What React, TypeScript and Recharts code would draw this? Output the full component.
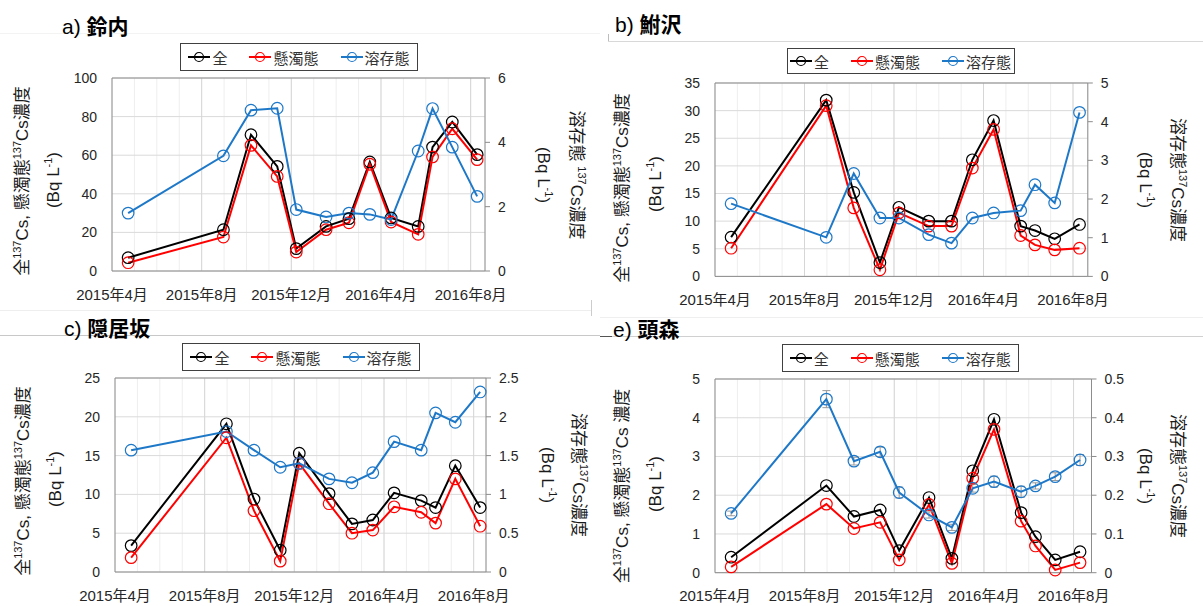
import React from 'react';
import { LineChart, Line, XAxis, YAxis, CartesianGrid, ReferenceLine, ErrorBar } from 'recharts';

const FONT = '"Liberation Sans", Arial, "Noto Sans CJK JP", sans-serif';

// sampling dates, in months after 2015-04-01
const sampleMonths = [0.72, 4.97, 6.2, 7.37, 8.22, 9.55, 10.57, 11.5, 12.45, 13.66, 14.3, 15.18, 16.29];
const monthTicks = [0, 1, 2, 3, 4, 5, 6, 7, 8, 9, 10, 11, 12, 13, 14, 15, 16];
const majorMonths = [0, 4, 8, 12, 16];
const xTickLabels = ['2015年4月', '2015年8月', '2015年12月', '2016年4月', '2016年8月'];

const seriesNames = ['全', '懸濁態', '溶存態'];
const seriesColors = ['#000000', '#ff0000', '#1e78c8'];

// a) 鈴内
const aTotal = [6.9, 21.4, 70.6, 54.2, 11.6, 23.1, 27.1, 56.5, 27.5, 23.1, 64.2, 77.2, 60.3];
const aSusp = [4.3, 17.6, 65.1, 49.0, 9.8, 21.4, 25.0, 55.3, 25.4, 19.0, 59.1, 73.7, 57.7];
const aDiss = [1.8, 3.58, 5.0, 5.06, 1.91, 1.68, 1.8, 1.76, 1.6, 3.73, 5.05, 3.85, 2.32];

// b) 鮒沢
const bTotal = [7.1, 31.9, 15.2, 2.5, 12.5, 10.0, 10.0, 21.1, 28.2, 9.1, 8.3, 6.8, 9.4];
const bSusp = [5.1, 30.9, 12.4, 1.2, 11.5, 9.1, 9.1, 19.6, 26.6, 7.4, 5.7, 4.8, 5.1];
const bDiss = [1.88, 1.01, 2.66, 1.51, 1.51, 1.08, 0.86, 1.51, 1.64, 1.7, 2.37, 1.9, 4.24];

// c) 隠居坂
const cTotal = [3.4, 19.1, 9.4, 2.8, 15.3, 10.1, 6.2, 6.7, 10.2, 9.2, 8.3, 13.7, 8.3];
const cSusp = [1.85, 17.3, 7.9, 1.4, 14.0, 8.8, 5.0, 5.4, 8.4, 7.7, 6.3, 12.0, 5.9];
const cDiss = [1.57, 1.81, 1.57, 1.35, 1.4, 1.2, 1.15, 1.28, 1.68, 1.57, 2.05, 1.93, 2.32];

// e) 頭森
const eTotal = [0.4, 2.25, 1.45, 1.62, 0.57, 1.94, 0.37, 2.63, 3.96, 1.55, 0.93, 0.33, 0.54];
const eSusp = [0.15, 1.77, 1.14, 1.3, 0.33, 1.76, 0.24, 2.44, 3.7, 1.33, 0.69, 0.07, 0.26];
const eDiss = [0.153, 0.448, 0.288, 0.312, 0.207, 0.149, 0.117, 0.218, 0.235, 0.209, 0.224, 0.248, 0.291];
const eDissErr = [0.006, 0.022, 0.01, 0.012, 0.014, 0.008, 0.008, 0.01, 0.014, 0.014, 0.008, 0.01, 0.014];

const AXIS = '#8c8c8c';
const TICK = { fontSize: 14, fill: '#262626', fontFamily: FONT };
const XTICK = { fontSize: 15, fill: '#262626', fontFamily: FONT };

type Rect = { x0: number; y0: number; x1: number; y1: number };

type PanelProps = {
  letter: string;
  name: string;
  total: number[];
  susp: number[];
  diss: number[];
  err?: number[];
  leftMax: number;
  leftTicks: number[];
  rightMax: number;
  rightTicks: number[];
  xMax: number;
  plot: Rect;
  title: { x: number; y: number };
  legend: { x: number; y: number; w: number; h: number };
  leftLabel: { cx: number; cy: number; bx: number; by: number; spaced?: boolean };
  rightLabel: { cx: number; cy: number; bx: number; by: number; spaced?: boolean };
};

const LegendIcon = ({ color }: { color: string }) => (
  <svg width={22} height={12} style={{ display: 'block' }}>
    <line x1={0} y1={6} x2={22} y2={6} stroke={color} strokeWidth={2} />
    <circle cx={11} cy={6} r={4.5} fill="none" stroke={color} strokeWidth={1.2} />
  </svg>
);

const vText = (cx: number, cy: number, rot: number, content: React.ReactNode) => (
  <div
    style={{
      position: 'absolute',
      left: cx,
      top: cy,
      transform: `translate(-50%, -50%) rotate(${rot}deg)`,
      whiteSpace: 'nowrap',
      fontSize: 17,
      lineHeight: '20px',
      fontFamily: FONT,
      color: '#1a1a1a',
    }}
  >
    {content}
  </div>
);

const sup = (s: string) => <sup style={{ fontSize: 11, lineHeight: 0 }}>{s}</sup>;
const bqUnit = <span>(Bq L{sup('-1')})</span>;

function Panel(p: PanelProps) {
  const { x0, y0, x1, y1 } = p.plot;
  const LW = 50;
  const RW = 45;
  const TOP = 10;
  const XH = 36;
  const width = x1 - x0 + LW + RW;
  const height = y1 - y0 + TOP + XH;
  const rows = sampleMonths.map((m, i) => ({
    m,
    total: p.total[i],
    susp: p.susp[i],
    diss: p.diss[i],
    err: p.err ? p.err[i] : 0,
  }));
  const fmtX = (v: number) => {
    const k = majorMonths.indexOf(v);
    return k >= 0 ? xTickLabels[k] : '';
  };
  const dot = (c: string) => ({ r: 5.8, fill: 'none', stroke: c, strokeWidth: 1.2 });

  return (
    <>
      <div style={{ position: 'absolute', left: p.title.x, top: p.title.y - 14, fontSize: 21, lineHeight: '28px', fontFamily: FONT, color: '#000', whiteSpace: 'nowrap' }}>
        {p.letter}) <span style={{ fontWeight: 'bold', fontFamily: '"Noto Sans CJK JP", sans-serif' }}>{p.name}</span>
      </div>
      <div style={{ position: 'absolute', left: x0 - LW, top: y0 - TOP }}>
        <LineChart width={width} height={height} data={rows} margin={{ top: TOP, right: 0, bottom: 0, left: 0 }}>
          <CartesianGrid horizontal={false} yAxisId="left" stroke="#eeeeee" />
          <CartesianGrid vertical={false} yAxisId="left" stroke="#dadada" />
          {majorMonths.slice(1).map((m) => (
            <ReferenceLine key={m} x={m} yAxisId="left" stroke="#d6d6d6" />
          ))}
          <XAxis
            type="number"
            dataKey="m"
            domain={[0, p.xMax]}
            ticks={monthTicks}
            interval={0}
            tickFormatter={fmtX}
            tickLine={false}
            tickSize={0}
            tickMargin={18}
            height={XH}
            axisLine={{ stroke: AXIS }}
            tick={XTICK}
          />
          <YAxis
            yAxisId="left"
            domain={[0, p.leftMax]}
            ticks={p.leftTicks}
            interval={0}
            width={LW}
            tickLine={false}
            tickSize={0}
            tickMargin={15}
            axisLine={{ stroke: AXIS }}
            tick={TICK}
          />
          <YAxis
            yAxisId="right"
            orientation="right"
            domain={[0, p.rightMax]}
            ticks={p.rightTicks}
            interval={0}
            width={RW}
            tickSize={5}
            tickMargin={8}
            tickLine={{ stroke: AXIS }}
            axisLine={{ stroke: AXIS }}
            tick={TICK}
          />
          <ReferenceLine yAxisId="left" y={p.leftMax} stroke={AXIS} />
          <Line yAxisId="left" dataKey="total" name={seriesNames[0]} stroke={seriesColors[0]} strokeWidth={2} dot={dot(seriesColors[0])} activeDot={false} isAnimationActive={false} />
          <Line yAxisId="left" dataKey="susp" name={seriesNames[1]} stroke={seriesColors[1]} strokeWidth={2} dot={dot(seriesColors[1])} activeDot={false} isAnimationActive={false} />
          <Line yAxisId="right" dataKey="diss" name={seriesNames[2]} stroke={seriesColors[2]} strokeWidth={2} dot={dot(seriesColors[2])} activeDot={false} isAnimationActive={false}>
            {p.err && <ErrorBar dataKey="err" width={4} stroke="#9a9a9a" strokeWidth={1} direction="y" />}
          </Line>
        </LineChart>
      </div>
      <div
        style={{
          position: 'absolute',
          left: p.legend.x,
          top: p.legend.y,
          width: p.legend.w,
          height: p.legend.h,
          boxSizing: 'border-box',
          border: '1px solid #404040',
          background: '#fff',
          display: 'flex',
          alignItems: 'center',
          justifyContent: 'center',
          gap: 22,
          fontSize: 15,
          fontFamily: '"Noto Sans CJK JP", sans-serif',
          color: '#333',
        }}
      >
        {seriesNames.map((n, i) => (
          <div key={n} style={{ display: 'flex', alignItems: 'center', gap: 2 }}>
            <LegendIcon color={seriesColors[i]} />
            <span>{n}</span>
          </div>
        ))}
      </div>
      {vText(p.leftLabel.cx, p.leftLabel.cy, -90, (
        <span>全{sup('137')}Cs, 懸濁態{sup('137')}Cs{p.leftLabel.spaced ? ' ' : ''}濃度</span>
      ))}
      {vText(p.leftLabel.bx, p.leftLabel.by, -90, bqUnit)}
      {vText(p.rightLabel.cx, p.rightLabel.cy, 90, (
        <span>溶存態{p.rightLabel.spaced ? ' ' : ''}{sup('137')}Cs濃度</span>
      ))}
      {vText(p.rightLabel.bx, p.rightLabel.by, 90, bqUnit)}
    </>
  );
}

const hLine = (x: number, y: number, w: number, c: string) => (
  <div style={{ position: 'absolute', left: x, top: y, width: w, height: 1, background: c }} />
);
const vLine = (x: number, y: number, h: number, c: string) => (
  <div style={{ position: 'absolute', left: x, top: y, width: 1, height: h, background: c }} />
);

export default function App() {
  return (
    <div style={{ position: 'absolute', left: 0, top: 0, width: 1203, height: 606, background: '#fff', overflow: 'hidden' }}>
      {hLine(0, 33, 600, '#f3f3f3')}
      {hLine(608, 41, 595, '#d8d8d8')}
      {vLine(608, 34, 7, '#bdbdbd')}
      {hLine(0, 310, 591, '#eeeeee')}
      {vLine(591, 300, 16, '#cccccc')}
      {hLine(0, 335, 600, '#c8c8c8')}
      {hLine(600, 317, 603, '#efefef')}
      {hLine(600, 336, 603, '#d0d0d0')}
      {hLine(600, 336, 12, '#555555')}

      <Panel
        letter="a"
        name="鈴内"
        total={aTotal}
        susp={aSusp}
        diss={aDiss}
        leftMax={100}
        leftTicks={[0, 20, 40, 60, 80, 100]}
        rightMax={6}
        rightTicks={[0, 2, 4, 6]}
        xMax={16.64}
        plot={{ x0: 112, y0: 78, x1: 485, y1: 271 }}
        title={{ x: 62, y: 25 }}
        legend={{ x: 180, y: 43, w: 238, h: 28 }}
        leftLabel={{ cx: 23, cy: 181, bx: 54, by: 180 }}
        rightLabel={{ cx: 576, cy: 175, bx: 543, by: 175, spaced: true }}
      />
      <Panel
        letter="b"
        name="鮒沢"
        total={bTotal}
        susp={bSusp}
        diss={bDiss}
        leftMax={35}
        leftTicks={[0, 5, 10, 15, 20, 25, 30, 35]}
        rightMax={5}
        rightTicks={[0, 1, 2, 3, 4, 5]}
        xMax={16.66}
        plot={{ x0: 714.5, y0: 83.3, x1: 1087.3, y1: 276.7 }}
        title={{ x: 615, y: 23 }}
        legend={{ x: 786.5, y: 48, w: 228, h: 26 }}
        leftLabel={{ cx: 623, cy: 188, bx: 656, by: 184 }}
        rightLabel={{ cx: 1177, cy: 180, bx: 1145, by: 180 }}
      />
      <Panel
        letter="c"
        name="隠居坂"
        total={cTotal}
        susp={cSusp}
        diss={cDiss}
        leftMax={25}
        leftTicks={[0, 5, 10, 15, 20, 25]}
        rightMax={2.5}
        rightTicks={[0, 0.5, 1, 1.5, 2, 2.5]}
        xMax={16.55}
        plot={{ x0: 115, y0: 377.7, x1: 486, y1: 571.7 }}
        title={{ x: 64, y: 327 }}
        legend={{ x: 182, y: 343, w: 238, h: 28 }}
        leftLabel={{ cx: 24, cy: 481, bx: 55.5, by: 479 }}
        rightLabel={{ cx: 578, cy: 475, bx: 547, by: 475 }}
      />
      <Panel
        letter="e"
        name="頭森"
        total={eTotal}
        susp={eSusp}
        diss={eDiss}
        err={eDissErr}
        leftMax={5}
        leftTicks={[0, 1, 2, 3, 4, 5]}
        rightMax={0.5}
        rightTicks={[0, 0.1, 0.2, 0.3, 0.4, 0.5]}
        xMax={16.8}
        plot={{ x0: 714.5, y0: 379, x1: 1091, y1: 572.7 }}
        title={{ x: 613, y: 328 }}
        legend={{ x: 781.5, y: 344, w: 237.5, h: 28 }}
        leftLabel={{ cx: 623, cy: 486, bx: 656, by: 484, spaced: true }}
        rightLabel={{ cx: 1177, cy: 476, bx: 1145, by: 476 }}
      />
    </div>
  );
}
